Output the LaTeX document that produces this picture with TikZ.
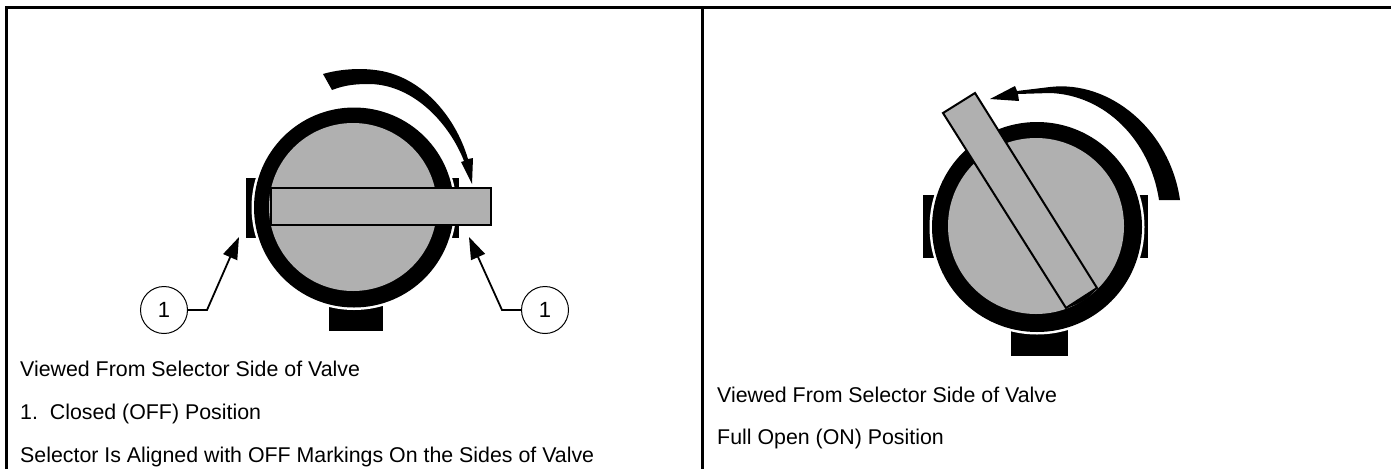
\documentclass[tikz,border=0pt]{standalone}
\usepackage{fontspec}
\setmainfont{Liberation Sans}
\usetikzlibrary{arrows.meta}
\definecolor{valvegray}{RGB}{176,176,176}
\tikzset{
  ring/.style={fill=black},
  disc/.style={fill=valvegray},
  gap/.style={fill=white},
  handle/.style={fill=valvegray,draw=black,line width=2pt},
  legend/.style={anchor=base west,inner sep=0pt,font=\fontsize{21.35}{24}\selectfont},
  callout/.style={circle,draw=black,line width=1pt,minimum size=47pt,inner sep=0pt,font=\fontsize{22}{24}\selectfont},
  leader/.style={line width=1.8pt,-{Triangle[length=22pt,width=15pt]}},
  tip/.style={fill=black},
  frameline/.style={line width=3.4pt}
}
\begin{document}
\begin{tikzpicture}[x=1pt,y=-1pt]
  \useasboundingbox (0,0) rectangle (1391,469);
  % frame
  \draw[frameline] (6.5,469) -- (6.5,7.5) -- (1391,7.5);
  \draw[frameline] (702.5,7.5) -- (702.5,469);

  % closed position
  \begin{scope}
    \fill[ring] (246,178) rectangle (459,238);
    \fill[ring] (329,280) rectangle (383,331);
    \fill[gap] (354,207.5) circle (102.5);
    \fill[ring] (354,207.5) circle (100);
    \fill[disc] (353,207) circle (84);
    \draw[handle] (270.5,188) rectangle (491,225);
    % turn arrow
    \fill[tip] (323,74) .. controls (340,69) and (360,68) .. (375,70)
      .. controls (420,75) and (455,115) .. (468,159)
      -- (473,158) -- (472,184) -- (461,162) -- (464,161)
      .. controls (450,125) and (415,85) .. (370,84)
      .. controls (355,84) and (345,85) .. (332,90) -- cycle;
  \end{scope}

  \node[callout] (leftcall) at (164,310) {1};
  \node[callout] (rightcall) at (545,310) {1};
  \coordinate (leftbend) at (207,310);
  \coordinate (rightbend) at (502,310);
  \coordinate (lefttip) at (239,237);
  \coordinate (righttip) at (469,237);
  \draw[leader] (leftcall) -- (leftbend) -- (lefttip);
  \draw[leader] (rightcall) -- (rightbend) -- (righttip);

  \node[legend] (viewa) at (20,376) {Viewed From Selector Side of Valve};
  \node[legend] (posa) at (20,419) {1.\ \ Closed (OFF) Position};
  \node[legend] (notea) at (20,462) {Selector Is Aligned with OFF Markings On the Sides of Valve};

  % open position
  \begin{scope}
    \fill[ring] (923,195) rectangle (1148,258);
    \fill[ring] (1011,300) rectangle (1068,356);
    \fill[gap] (1037,227) circle (107.5);
    \fill[ring] (1037,227) circle (105);
    \fill[disc] (1036,226) circle (88);
    \fill[ring] (1066,308) .. controls (1080,304) and (1090,298) .. (1097,288) -- cycle;
    \draw[handle] (943,113) -- (975,93) -- (1097,288) -- (1066,308) -- cycle;
    % turn arrow
    \fill[tip] (1180,200) .. controls (1170,130) and (1110,80) .. (1050,87)
      -- (1017,91) -- (1015,86) -- (990,99) -- (1019,101) -- (1018,94) -- (1050,93)
      .. controls (1105,95) and (1150,140) .. (1159,200) -- cycle;
  \end{scope}

  \node[legend] (viewb) at (717,402) {Viewed From Selector Side of Valve};
  \node[legend] (posb) at (717,444) {Full Open (ON) Position};
\end{tikzpicture}
\end{document}
